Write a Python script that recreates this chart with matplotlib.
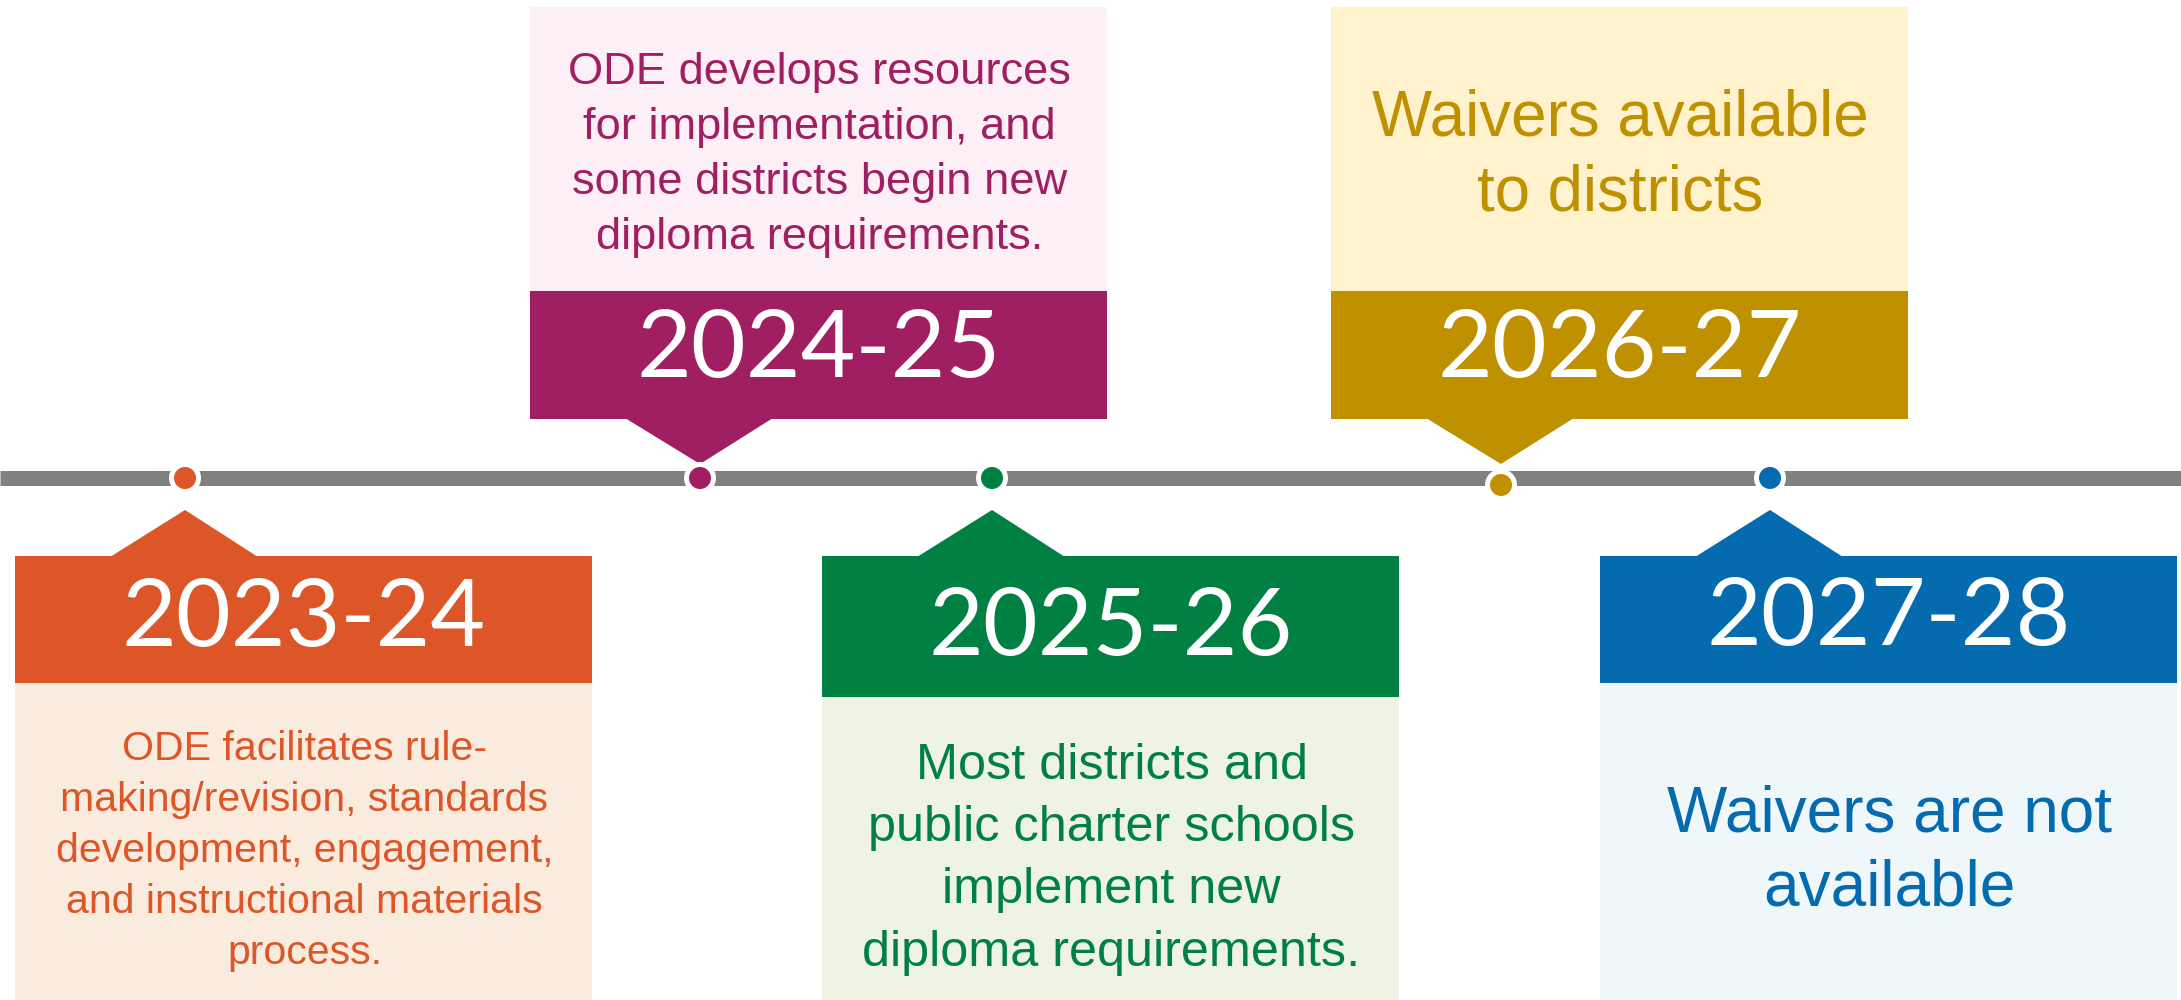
import matplotlib
matplotlib.use("Agg")
import matplotlib.pyplot as plt
from matplotlib.patches import Rectangle, Polygon, Circle

# ---------------- data ----------------
years = ["2023-24", "2024-25", "2025-26", "2026-27", "2027-28"]
descriptions = [
    "ODE facilitates rule-\nmaking/revision, standards\ndevelopment, engagement,\nand instructional materials\nprocess.",
    "ODE develops resources\nfor implementation, and\nsome districts begin new\ndiploma requirements.",
    "Most districts and\npublic charter schools\nimplement new\ndiploma requirements.",
    "Waivers available\nto districts",
    "Waivers are not\navailable",
]
sides = ["below", "above", "below", "above", "below"]

# ---------------- styles / layout ----------------
dark = ["#DC5627", "#A01F62", "#008043", "#BF9000", "#046BAE"]
light = ["#FAEBDF", "#FCF0F6", "#EFF3E6", "#FFF2CC", "#F0F7FB"]
box_left = [15, 530, 822, 1331, 1600]
box_w = 577
header_h = [127, 128, 141, 128, 127]
dot_dy = [0, 0, 0, 7, 0]
body_size = [29.5, 32.6, 36.3, 45.8, 46]
body_ls = [1.43, 1.44, 1.45, 1.31, 1.31]
body_top = [730, 52, 743, 89, 784]
year_base = [646, 377, 655, 377, 645]

W, H = 2181, 1000
line_y = 478

fig = plt.figure(figsize=(W / 100, H / 100), dpi=100)
ax = fig.add_axes([0, 0, 1, 1])
ax.set_xlim(0, W)
ax.set_ylim(H, 0)
ax.axis("off")

ax.plot([0, W], [line_y, line_y], color="#808080", lw=15 * 0.72,
        solid_capstyle="butt", zorder=1)

for i, yr in enumerate(years):
    L = box_left[i]
    tip_x = L + 170
    if sides[i] == "below":
        htop = 556
        hbot = htop + header_h[i]
        ax.add_patch(Rectangle((L, hbot), box_w, H - hbot, color=light[i], lw=0, zorder=2))
        ax.add_patch(Rectangle((L, htop), box_w, header_h[i], color=dark[i], lw=0, zorder=2))
        ax.add_patch(Polygon([(L + 95, htop + 1), (tip_x, htop - 46), (L + 243, htop + 1)],
                             closed=True, color=dark[i], lw=0, zorder=2))
    else:
        ltop = 7
        htop = 291
        hbot = htop + header_h[i]
        ax.add_patch(Rectangle((L, ltop), box_w, htop - ltop, color=light[i], lw=0, zorder=2))
        ax.add_patch(Rectangle((L, htop), box_w, header_h[i], color=dark[i], lw=0, zorder=2))
        ax.add_patch(Polygon([(L + 95, hbot - 1), (tip_x, hbot + 45), (L + 243, hbot - 1)],
                             closed=True, color=dark[i], lw=0, zorder=2))
    # year label
    ax.text(L + box_w / 2, year_base[i], yr, color="white", fontsize=68,
            family="Lato", ha="center", va="baseline", zorder=3)
    # description
    ax.text(L + box_w / 2 + 1, body_top[i], descriptions[i], color=dark[i],
            fontsize=body_size[i], family="Liberation Sans", ha="center",
            va="top", multialignment="center", linespacing=body_ls[i], zorder=3)
    # dot
    cy = line_y + dot_dy[i]
    ax.add_patch(Circle((tip_x, cy), 16, color="white", lw=0, zorder=4))
    ax.add_patch(Circle((tip_x, cy), 11, color=dark[i], lw=0, zorder=5))

fig.savefig("out.png", dpi=100, facecolor="white")
